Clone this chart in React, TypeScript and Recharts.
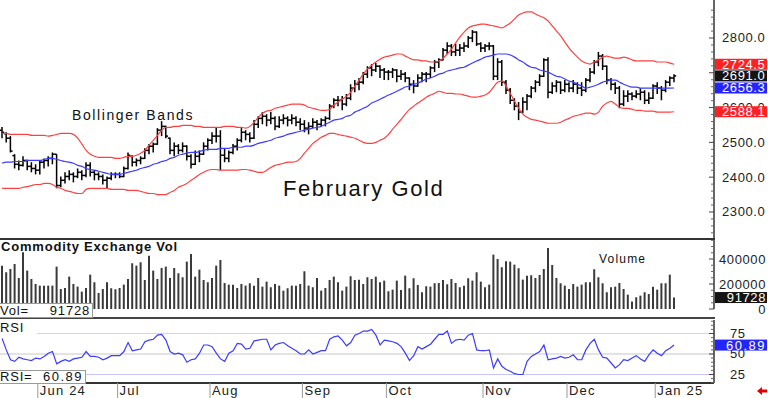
import React from 'react';
import { ComposedChart, Bar, Line, XAxis, YAxis, ReferenceLine } from 'recharts';

// ---------- DATA ----------
const opens = [
  2535, 2525, 2512, 2462, 2437, 2434, 2448, 2431, 2425, 2420,
  2443, 2448, 2454, 2466, 2376, 2391, 2402, 2408, 2402, 2414,
  2405, 2434, 2414, 2408, 2402, 2391, 2397, 2408, 2408, 2402,
  2425, 2460, 2443, 2448, 2454, 2477, 2489, 2495, 2535, 2546,
  2512, 2477, 2489, 2477, 2489, 2460, 2437, 2460, 2466, 2489,
  2506, 2518, 2518, 2463, 2454, 2471, 2489, 2506, 2529, 2523,
  2512, 2552, 2569, 2575, 2564, 2569, 2546, 2564, 2569, 2564,
  2569, 2558, 2552, 2541, 2546, 2558, 2552, 2564, 2569, 2604,
  2621, 2621, 2610, 2627, 2656, 2667, 2673, 2696, 2714, 2708,
  2719, 2708, 2702, 2702, 2708, 2690, 2696, 2685, 2667, 2662,
  2685, 2696, 2696, 2714, 2731, 2737, 2765, 2777, 2760, 2765,
  2771, 2777, 2800, 2817, 2783, 2771, 2777, 2777, 2690, 2731,
  2673, 2650, 2621, 2604, 2587, 2616, 2633, 2656, 2673, 2690,
  2737, 2644, 2662, 2673, 2650, 2667, 2656, 2667, 2656, 2650,
  2679, 2702, 2731, 2748, 2719, 2679, 2667, 2656, 2610, 2633,
  2639, 2633, 2639, 2644, 2621, 2627, 2662, 2656, 2650, 2673,
  2685,
];
const highs = [
  2544, 2529, 2518, 2466, 2448, 2460, 2450, 2443, 2437, 2448,
  2454, 2460, 2471, 2466, 2402, 2414, 2420, 2414, 2425, 2420,
  2443, 2443, 2420, 2414, 2408, 2402, 2414, 2414, 2414, 2431,
  2471, 2463, 2454, 2460, 2483, 2495, 2500, 2541, 2561, 2548,
  2514, 2500, 2495, 2500, 2492, 2466, 2477, 2477, 2500, 2512,
  2529, 2541, 2535, 2483, 2477, 2495, 2512, 2541, 2535, 2529,
  2564, 2575, 2587, 2581, 2587, 2575, 2575, 2581, 2575, 2581,
  2575, 2569, 2564, 2558, 2569, 2564, 2569, 2575, 2610, 2627,
  2633, 2633, 2639, 2667, 2679, 2685, 2702, 2719, 2725, 2728,
  2722, 2714, 2708, 2714, 2710, 2708, 2702, 2687, 2679, 2696,
  2702, 2702, 2719, 2737, 2742, 2771, 2788, 2783, 2783, 2783,
  2788, 2806, 2823, 2819, 2788, 2783, 2788, 2780, 2742, 2737,
  2679, 2656, 2627, 2616, 2630, 2639, 2662, 2679, 2696, 2742,
  2745, 2673, 2679, 2675, 2679, 2673, 2679, 2673, 2673, 2685,
  2714, 2737, 2760, 2754, 2721, 2685, 2673, 2662, 2650, 2650,
  2644, 2650, 2656, 2650, 2644, 2667, 2673, 2662, 2679, 2690,
  2696,
];
const lows = [
  2512, 2500, 2471, 2425, 2420, 2431, 2420, 2414, 2408, 2408,
  2425, 2431, 2437, 2368, 2371, 2382, 2391, 2385, 2397, 2391,
  2400, 2402, 2391, 2391, 2379, 2368, 2391, 2397, 2397, 2400,
  2422, 2431, 2431, 2437, 2452, 2466, 2471, 2493, 2518, 2512,
  2466, 2460, 2466, 2471, 2448, 2425, 2435, 2443, 2464, 2477,
  2495, 2500, 2420, 2443, 2443, 2466, 2477, 2500, 2506, 2500,
  2510, 2541, 2552, 2546, 2552, 2535, 2541, 2552, 2546, 2552,
  2546, 2535, 2529, 2523, 2541, 2535, 2546, 2546, 2564, 2598,
  2604, 2592, 2604, 2621, 2644, 2650, 2667, 2685, 2690, 2702,
  2685, 2679, 2679, 2685, 2673, 2679, 2673, 2650, 2641, 2660,
  2673, 2673, 2685, 2702, 2714, 2735, 2754, 2748, 2748, 2748,
  2760, 2771, 2788, 2777, 2760, 2760, 2765, 2679, 2679, 2662,
  2639, 2610, 2592, 2564, 2584, 2592, 2627, 2644, 2662, 2688,
  2627, 2639, 2644, 2639, 2644, 2644, 2644, 2639, 2633, 2644,
  2673, 2696, 2719, 2708, 2667, 2650, 2639, 2598, 2604, 2616,
  2621, 2627, 2621, 2610, 2610, 2625, 2639, 2621, 2644, 2662,
  2673,
];
const closes = [
  2529, 2512, 2475, 2437, 2434, 2448, 2431, 2425, 2420, 2443,
  2448, 2454, 2466, 2376, 2391, 2402, 2408, 2402, 2414, 2405,
  2434, 2414, 2408, 2402, 2391, 2397, 2408, 2408, 2402, 2425,
  2463, 2443, 2448, 2454, 2477, 2489, 2495, 2535, 2546, 2518,
  2477, 2489, 2477, 2489, 2460, 2437, 2460, 2466, 2489, 2506,
  2518, 2518, 2463, 2454, 2471, 2489, 2506, 2529, 2523, 2512,
  2552, 2569, 2575, 2564, 2569, 2546, 2564, 2569, 2564, 2569,
  2558, 2552, 2541, 2546, 2558, 2552, 2564, 2569, 2604, 2621,
  2621, 2610, 2627, 2656, 2667, 2673, 2696, 2714, 2708, 2719,
  2708, 2702, 2702, 2708, 2690, 2696, 2685, 2667, 2662, 2685,
  2696, 2696, 2714, 2731, 2737, 2765, 2777, 2760, 2765, 2771,
  2777, 2800, 2817, 2783, 2771, 2777, 2777, 2690, 2731, 2673,
  2650, 2621, 2604, 2587, 2616, 2633, 2656, 2673, 2690, 2737,
  2644, 2662, 2673, 2650, 2667, 2656, 2667, 2656, 2650, 2679,
  2702, 2731, 2748, 2719, 2679, 2667, 2656, 2610, 2633, 2639,
  2633, 2639, 2644, 2621, 2627, 2662, 2656, 2650, 2673, 2685,
  2691,
];
const upperBand = [
  2526, 2526, 2523, 2523, 2523, 2523, 2523, 2520, 2520, 2520,
  2520, 2518, 2520, 2523, 2526, 2526, 2526, 2523, 2512, 2495,
  2477, 2466, 2460, 2457, 2457, 2457, 2457, 2454, 2454, 2457,
  2460, 2460, 2463, 2469, 2477, 2492, 2506, 2520, 2535, 2543,
  2543, 2546, 2546, 2549, 2549, 2549, 2546, 2546, 2543, 2543,
  2543, 2543, 2543, 2546, 2546, 2546, 2543, 2543, 2541, 2546,
  2558, 2572, 2584, 2590, 2592, 2598, 2601, 2604, 2607, 2610,
  2610, 2610, 2607, 2601, 2598, 2595, 2592, 2592, 2595, 2607,
  2616, 2624, 2633, 2644, 2662, 2679, 2696, 2711, 2722, 2731,
  2739, 2745, 2748, 2751, 2754, 2754, 2748, 2742, 2737, 2737,
  2734, 2734, 2731, 2731, 2734, 2742, 2754, 2768, 2786, 2803,
  2817, 2829, 2835, 2837, 2840, 2840, 2837, 2835, 2832, 2829,
  2835, 2843, 2855, 2866, 2872, 2875, 2875, 2869, 2863, 2858,
  2849, 2835, 2820, 2806, 2788, 2771, 2757, 2745, 2734, 2728,
  2725, 2731, 2737, 2745, 2748, 2745, 2742, 2742, 2745, 2742,
  2737, 2734, 2734, 2734, 2734, 2734, 2731, 2731, 2731, 2728,
  2724.5,
];
const middleBand = [
  2440, 2443, 2443, 2445, 2445, 2445, 2448, 2448, 2448, 2448,
  2451, 2454, 2454, 2451, 2448, 2445, 2443, 2440, 2434, 2431,
  2425, 2422, 2420, 2417, 2414, 2411, 2408, 2408, 2408, 2411,
  2414, 2417, 2420, 2425, 2428, 2431, 2437, 2440, 2445, 2448,
  2454, 2457, 2463, 2466, 2469, 2471, 2471, 2474, 2477, 2480,
  2480, 2480, 2483, 2483, 2483, 2486, 2486, 2486, 2489, 2489,
  2492, 2497, 2500, 2503, 2506, 2512, 2515, 2518, 2523, 2526,
  2529, 2532, 2535, 2538, 2541, 2543, 2546, 2552, 2558, 2564,
  2566, 2569, 2575, 2578, 2587, 2592, 2598, 2604, 2613, 2618,
  2624, 2630, 2636, 2641, 2647, 2653, 2659, 2662, 2667, 2670,
  2676, 2682, 2685, 2690, 2696, 2699, 2705, 2708, 2711, 2714,
  2716, 2722, 2728, 2734, 2739, 2745, 2748, 2751, 2754, 2754,
  2754, 2751, 2745, 2737, 2731, 2722, 2716, 2714, 2708, 2705,
  2702, 2696, 2690, 2688, 2682, 2676, 2673, 2667, 2662, 2656,
  2659, 2662, 2667, 2673, 2676, 2679, 2679, 2673, 2667, 2662,
  2659, 2659, 2656, 2656, 2656, 2656, 2656, 2656, 2656, 2656,
  2656.3,
];
const lowerBand = [
  2368, 2368, 2368, 2368, 2368, 2371, 2373, 2376, 2379, 2379,
  2382, 2382, 2379, 2371, 2368, 2362, 2359, 2356, 2353, 2353,
  2365, 2368, 2368, 2368, 2368, 2368, 2365, 2365, 2365, 2365,
  2362, 2362, 2362, 2359, 2356, 2353, 2353, 2350, 2350, 2350,
  2356, 2362, 2371, 2376, 2382, 2391, 2399, 2408, 2414, 2420,
  2422, 2422, 2420, 2420, 2420, 2420, 2420, 2422, 2422, 2420,
  2417, 2414, 2414, 2420, 2428, 2434, 2437, 2440, 2443, 2443,
  2445, 2454, 2469, 2483, 2497, 2506, 2515, 2520, 2526, 2526,
  2523, 2520, 2518, 2515, 2512, 2506, 2500, 2497, 2497, 2500,
  2506, 2512, 2523, 2538, 2552, 2566, 2581, 2595, 2604, 2613,
  2621, 2630, 2636, 2641, 2647, 2644, 2641, 2641, 2639, 2639,
  2636, 2633, 2630, 2630, 2633, 2636, 2644, 2659, 2673, 2676,
  2662, 2641, 2618, 2598, 2581, 2572, 2566, 2564, 2561, 2558,
  2555, 2555, 2555, 2558, 2564, 2569, 2575, 2578, 2581, 2584,
  2584, 2581, 2587, 2604, 2613, 2618, 2610, 2601, 2598, 2598,
  2595, 2592, 2592, 2590, 2590, 2590, 2587, 2587, 2587, 2587,
  2588.1,
];
const volumes = [
  347000, 294000, 320000, 360000, 248000, 454000, 307000, 240000, 200000, 187000,
  187000, 187000, 187000, 339000, 160000, 168000, 259000, 200000, 179000, 139000,
  168000, 275000, 214000, 128000, 160000, 214000, 166000, 158000, 168000, 195000,
  240000, 366000, 347000, 374000, 232000, 427000, 307000, 240000, 328000, 339000,
  248000, 328000, 286000, 254000, 379000, 440000, 259000, 315000, 232000, 214000,
  248000, 347000, 392000, 208000, 195000, 195000, 168000, 200000, 187000, 206000,
  187000, 248000, 179000, 219000, 174000, 200000, 187000, 147000, 166000, 187000,
  187000, 200000, 302000, 187000, 174000, 248000, 147000, 168000, 232000, 259000,
  214000, 147000, 179000, 262000, 232000, 235000, 200000, 254000, 240000, 259000,
  214000, 227000, 142000, 155000, 227000, 152000, 267000, 166000, 246000, 192000,
  134000, 182000, 179000, 206000, 208000, 232000, 198000, 240000, 208000, 174000,
  187000, 246000, 227000, 294000, 219000, 174000, 195000, 435000, 400000, 334000,
  382000, 379000, 355000, 326000, 235000, 267000, 270000, 248000, 272000, 320000,
  488000, 352000, 248000, 206000, 187000, 160000, 200000, 179000, 195000, 214000,
  214000, 318000, 254000, 206000, 134000, 174000, 179000, 208000, 160000, 115000,
  61000, 94000, 107000, 134000, 120000, 179000, 155000, 206000, 206000, 275000,
  91728,
];
const rsiValues = [
  69, 55, 43, 41, 46, 44, 43, 42, 45, 44,
  47, 51, 53, 38, 41, 43, 41, 44, 45, 46,
  53, 47, 47, 46, 43, 45, 48, 48, 48, 53,
  64, 54, 55, 56, 65, 67, 68, 73, 74, 67,
  53, 50, 51, 49, 40, 43, 44, 51, 61, 61,
  59, 51, 44, 41, 51, 54, 63, 62, 56, 57,
  66, 67, 68, 68, 55, 61, 63, 64, 60, 57,
  54, 50, 50, 55, 50, 52, 54, 54, 68, 71,
  72, 67, 60, 64, 73, 75, 78, 78, 80, 73,
  61, 67, 66, 65, 63, 59, 51, 42, 48, 59,
  56, 59, 62, 68, 74, 74, 78, 63, 67, 68,
  67, 73, 75, 55, 54, 54, 55, 33, 44, 35,
  31, 29, 26, 25, 25, 41, 47, 50, 53, 61,
  43, 44, 45, 47, 45, 46, 49, 43, 43, 55,
  63, 68, 55, 46, 45, 39, 33, 37, 43, 42,
  45, 48, 44, 41, 49, 55, 51, 48, 54, 57,
  60.89,
];

// month labels: index of the first trading day of each month
const monthStartIdx = [9, 28, 50, 72, 92, 115, 135, 156];
const monthLabels = ['Jun 24', 'Jul', 'Aug', 'Sep', 'Oct', 'Nov', 'Dec', 'Jan 25'];

// 2700.0 is fully hidden behind the value badges in the reference, so only its tick mark is drawn
const priceLabels = [2300, 2400, 2500, 2600, 2800];
const priceMajorNoLabel = [2700];
const priceBadges = [
  { value: 2588.1, bg: '#ff2020' },
  { value: 2656.3, bg: '#2424ff' },
  { value: 2691.0, bg: '#141414' },
  { value: 2724.5, bg: '#ff2020' },
];
const volLabels = [0, 200000, 400000];
const volBadge = 91728;
const rsiLabels = [25, 50, 75];
const rsiBadge = 60.89;

const SLOTS = 170; // trading-day slots on the x axis (last ones empty)

// ---------- derived table ----------
const N = closes.length;
const rows = Array.from({ length: SLOTS }, (_, i) =>
  i < N
    ? {
        i,
        hl: [lows[i], highs[i]],
        open: opens[i],
        high: highs[i],
        low: lows[i],
        close: closes[i],
        upper: upperBand[i],
        mid: middleBand[i],
        lower: lowerBand[i],
        vol: volumes[i],
        rsi: rsiValues[i],
      }
    : { i, hl: null, open: null, high: null, low: null, close: null, upper: null, mid: null, lower: null, vol: null, rsi: null }
);

const priceMinor: number[] = [];
for (let v = 2240; v <= 2900; v += 20) if (v % 100 !== 0) priceMinor.push(v);
const priceTicks = [...priceMinor, ...priceMajorNoLabel, ...priceLabels, ...priceBadges.map((b) => b.value)];

const volMinor: number[] = [];
for (let v = 50000; v <= 550000; v += 50000) if (v % 200000 !== 0) volMinor.push(v);
const volTicks = [...volMinor, ...volLabels, volBadge];

const rsiMinor: number[] = [];
for (let v = 15; v <= 90; v += 5) if (!rsiLabels.includes(v)) rsiMinor.push(v);
const rsiTicks = [...rsiMinor, ...rsiLabels, rsiBadge];

const FONT = '"Liberation Sans", Arial, sans-serif';
const axisText: React.CSSProperties = { fontFamily: FONT, fontSize: 13, letterSpacing: '0.6px' };

// ---------- shapes / ticks ----------
function OhlcShape(props: any) {
  const { x, y, width, height, payload } = props;
  if (!payload || payload.high == null || !isFinite(y) || !isFinite(height)) return <g />;
  const top = Math.min(y, y + height);
  const h = Math.abs(height);
  const cx = x + width / 2;
  const span = payload.high - payload.low || 1;
  const yo = top + (h * (payload.high - payload.open)) / span;
  const yc = top + (h * (payload.high - payload.close)) / span;
  return (
    <g stroke="#000" strokeWidth={1.5}>
      <line x1={cx} x2={cx} y1={top} y2={top + h} />
      <line x1={cx - 2.2} x2={cx} y1={yo} y2={yo} />
      <line x1={cx} x2={cx + 2.2} y1={yc} y2={yc} />
    </g>
  );
}

function PriceTick(props: any) {
  const { x, y, payload } = props;
  const v = payload.value as number;
  const b = priceBadges.find((p) => p.value === v);
  if (b)
    return (
      <g>
        <rect x={x + 1} y={y - 5.5} width={52} height={11} fill={b.bg} />
        <text x={x + 8} y={y + 4.5} fill="#fff" style={axisText}>{v.toFixed(1)}</text>
      </g>
    );
  if (priceLabels.includes(v))
    return (
      <g>
        <line x1={x - 5} x2={x} y1={y} y2={y} stroke="#444" />
        <text x={x + 8} y={y + 4.5} fill="#222" style={axisText}>{v.toFixed(1)}</text>
      </g>
    );
  if (priceMajorNoLabel.includes(v)) return <line x1={x - 5} x2={x} y1={y} y2={y} stroke="#444" />;
  return <line x1={x - 3} x2={x} y1={y} y2={y} stroke="#666" />;
}

function VolTick(props: any) {
  const { x, y, payload } = props;
  const v = payload.value as number;
  if (v === volBadge)
    return (
      <g>
        <rect x={x + 1} y={y - 5.5} width={52} height={11} fill="#141414" />
        <text x={x + 52} y={y + 4.5} fill="#fff" textAnchor="end" style={axisText}>{String(v)}</text>
      </g>
    );
  if (volLabels.includes(v))
    return (
      <g>
        <line x1={x - 5} x2={x} y1={y} y2={y} stroke="#444" />
        <text x={x + 52} y={y + 4.5} fill="#222" textAnchor="end" style={axisText}>{String(v)}</text>
      </g>
    );
  return <line x1={x - 3} x2={x} y1={y} y2={y} stroke="#666" />;
}

function RsiTick(props: any) {
  const { x, y, payload } = props;
  const v = payload.value as number;
  if (v === rsiBadge)
    return (
      <g>
        <rect x={x + 1} y={y - 5.5} width={52} height={11} fill="#2424ff" />
        <text x={x + 52} y={y + 4.5} fill="#fff" textAnchor="end" style={{ ...axisText, letterSpacing: '1.5px' }}>{v.toFixed(2)}</text>
      </g>
    );
  if (rsiLabels.includes(v))
    return (
      <g>
        <line x1={x - 5} x2={x} y1={y} y2={y} stroke="#444" />
        <text x={x + 16} y={y + 4.5} fill="#222" style={axisText}>{String(v)}</text>
      </g>
    );
  return <line x1={x - 3} x2={x} y1={y} y2={y} stroke="#666" />;
}

function MonthTick(props: any) {
  const { x, y, payload } = props;
  const k = monthStartIdx.indexOf(payload.value);
  if (k < 0) return <g />;
  const lx = x - 2.1;
  return (
    <g>
      <line x1={lx} x2={lx} y1={y} y2={y + 15} stroke="#999" />
      <text x={lx + 2} y={y + 12} fill="#222" style={{ ...axisText, letterSpacing: '1.2px' }}>{monthLabels[k]}</text>
    </g>
  );
}

const abs = (left: number, top: number, extra: React.CSSProperties = {}): React.CSSProperties => ({
  position: 'absolute',
  left,
  top,
  ...extra,
});

export default function App() {
  return (
    <div style={{ position: 'absolute', left: 0, top: 0, width: 768, height: 398, background: '#fff', overflow: 'hidden', fontFamily: FONT }}>
      {/* Price panel */}
      <div style={abs(0, 0)}>
        <ComposedChart width={768} height={239} data={rows} margin={{ top: 0, right: 0, bottom: 0, left: 0 }}>
          <XAxis dataKey="i" hide />
          <YAxis
            orientation="right"
            width={54}
            type="number"
            domain={[2222.3, 2909.2]}
            allowDataOverflow
            ticks={priceTicks}
            interval={0}
            tickSize={0}
            tickMargin={0}
            tickLine={false}
            axisLine={{ stroke: '#333', strokeWidth: 1.5 }}
            tick={(p: any) => <PriceTick {...p} />}
          />
          <Line type="monotone" dataKey="upper" stroke="#ff4040" strokeWidth={1.2} dot={false} activeDot={false} isAnimationActive={false} />
          <Line type="monotone" dataKey="lower" stroke="#ff4040" strokeWidth={1.2} dot={false} activeDot={false} isAnimationActive={false} />
          <Line type="monotone" dataKey="mid" stroke="#3c3cff" strokeWidth={1.2} dot={false} activeDot={false} isAnimationActive={false} />
          <Bar dataKey="hl" barSize={4} shape={(p: any) => <OhlcShape {...p} />} isAnimationActive={false} />
        </ComposedChart>
      </div>

      {/* Volume panel */}
      <div style={abs(0, 240)}>
        <ComposedChart width={768} height={78} data={rows} margin={{ top: 0, right: 0, bottom: 9, left: 0 }}>
          <XAxis dataKey="i" hide />
          <YAxis
            orientation="right"
            width={54}
            type="number"
            domain={[0, 552000]}
            allowDataOverflow
            ticks={volTicks}
            interval={0}
            tickSize={0}
            tickMargin={0}
            tickLine={false}
            axisLine={{ stroke: '#333', strokeWidth: 1.5 }}
            tick={(p: any) => <VolTick {...p} />}
          />
          <Bar dataKey="vol" barSize={2} fill="#3a3a3a" isAnimationActive={false} />
        </ComposedChart>
      </div>

      {/* RSI panel */}
      <div style={abs(0, 318)}>
        <ComposedChart width={768} height={80} data={rows} margin={{ top: 2, right: 0, bottom: 0, left: 0 }}>
          <XAxis
            dataKey="i"
            scale="band"
            height={15}
            interval={0}
            tickSize={0}
            tickMargin={0}
            tickLine={false}
            axisLine={{ stroke: '#333', strokeWidth: 2 }}
            tick={(p: any) => <MonthTick {...p} />}
          />
          <YAxis
            orientation="right"
            width={54}
            type="number"
            domain={[14.6, 91.5]}
            allowDataOverflow
            ticks={rsiTicks}
            interval={0}
            tickSize={0}
            tickMargin={0}
            tickLine={false}
            axisLine={{ stroke: '#333', strokeWidth: 1.5 }}
            tick={(p: any) => <RsiTick {...p} />}
          />
          <ReferenceLine y={75} stroke="#ffc4c4" strokeWidth={1.2} />
          <ReferenceLine y={50} stroke="#c8c8c8" strokeWidth={1.2} />
          <ReferenceLine y={25} stroke="#c4c4ff" strokeWidth={1.2} />
          <Line type="linear" dataKey="rsi" stroke="#3c3cff" strokeWidth={1.2} dot={false} activeDot={false} isAnimationActive={false} />
        </ComposedChart>
      </div>

      {/* panel separators */}
      <div style={abs(0, 238, { width: 715, height: 2, background: '#333' })} />
      <div style={abs(0, 317, { width: 715, height: 2, background: '#444' })} />

      {/* texts */}
      <div style={abs(72, 108, { fontSize: 14, lineHeight: '14px', letterSpacing: '1.6px', color: '#111' })}>Bollinger Bands</div>
      <div style={abs(283, 178, { fontSize: 22, lineHeight: '22px', letterSpacing: '1.6px', color: '#111' })}>February Gold</div>
      <div style={abs(1, 240, { fontSize: 13, lineHeight: '13px', fontWeight: 'bold', letterSpacing: '0.8px', color: '#111' })}>Commodity Exchange Vol</div>
      <div style={abs(599, 253, { fontSize: 12, lineHeight: '12px', letterSpacing: '1.2px', color: '#111' })}>Volume</div>

      <div style={abs(0, 303, { width: 92, height: 13, border: '1px solid #999', borderLeft: 'none', background: '#fff', fontSize: 13, lineHeight: '13px', letterSpacing: '0.8px', color: '#111' })}>
        <span style={{ position: 'absolute', left: 0, top: 0 }}>Vol=</span>
        <span style={{ position: 'absolute', right: 2, top: 0 }}>{String(volBadge)}</span>
      </div>

      <div style={abs(0, 320, { width: 37, height: 15, background: '#fff', fontSize: 13, lineHeight: '15px', letterSpacing: '0.8px', color: '#111' })}>RSI</div>
      <div style={abs(0, 370, { width: 85, height: 12, border: '1px solid #999', borderLeft: 'none', background: '#fff', fontSize: 13, lineHeight: '12px', letterSpacing: '0.8px', color: '#111' })}>
        <span style={{ position: 'absolute', left: 0, top: 0 }}>RSI=</span>
        <span style={{ position: 'absolute', right: 2, top: 0, letterSpacing: '1.5px' }}>{rsiBadge.toFixed(2)}</span>
      </div>

      <svg style={abs(756, 386)} width={12} height={10}>
        <polygon points="1,5 6,1 6,3.5 11,3.5 11,6.5 6,6.5 6,9" fill="#e00000" />
      </svg>
    </div>
  );
}
